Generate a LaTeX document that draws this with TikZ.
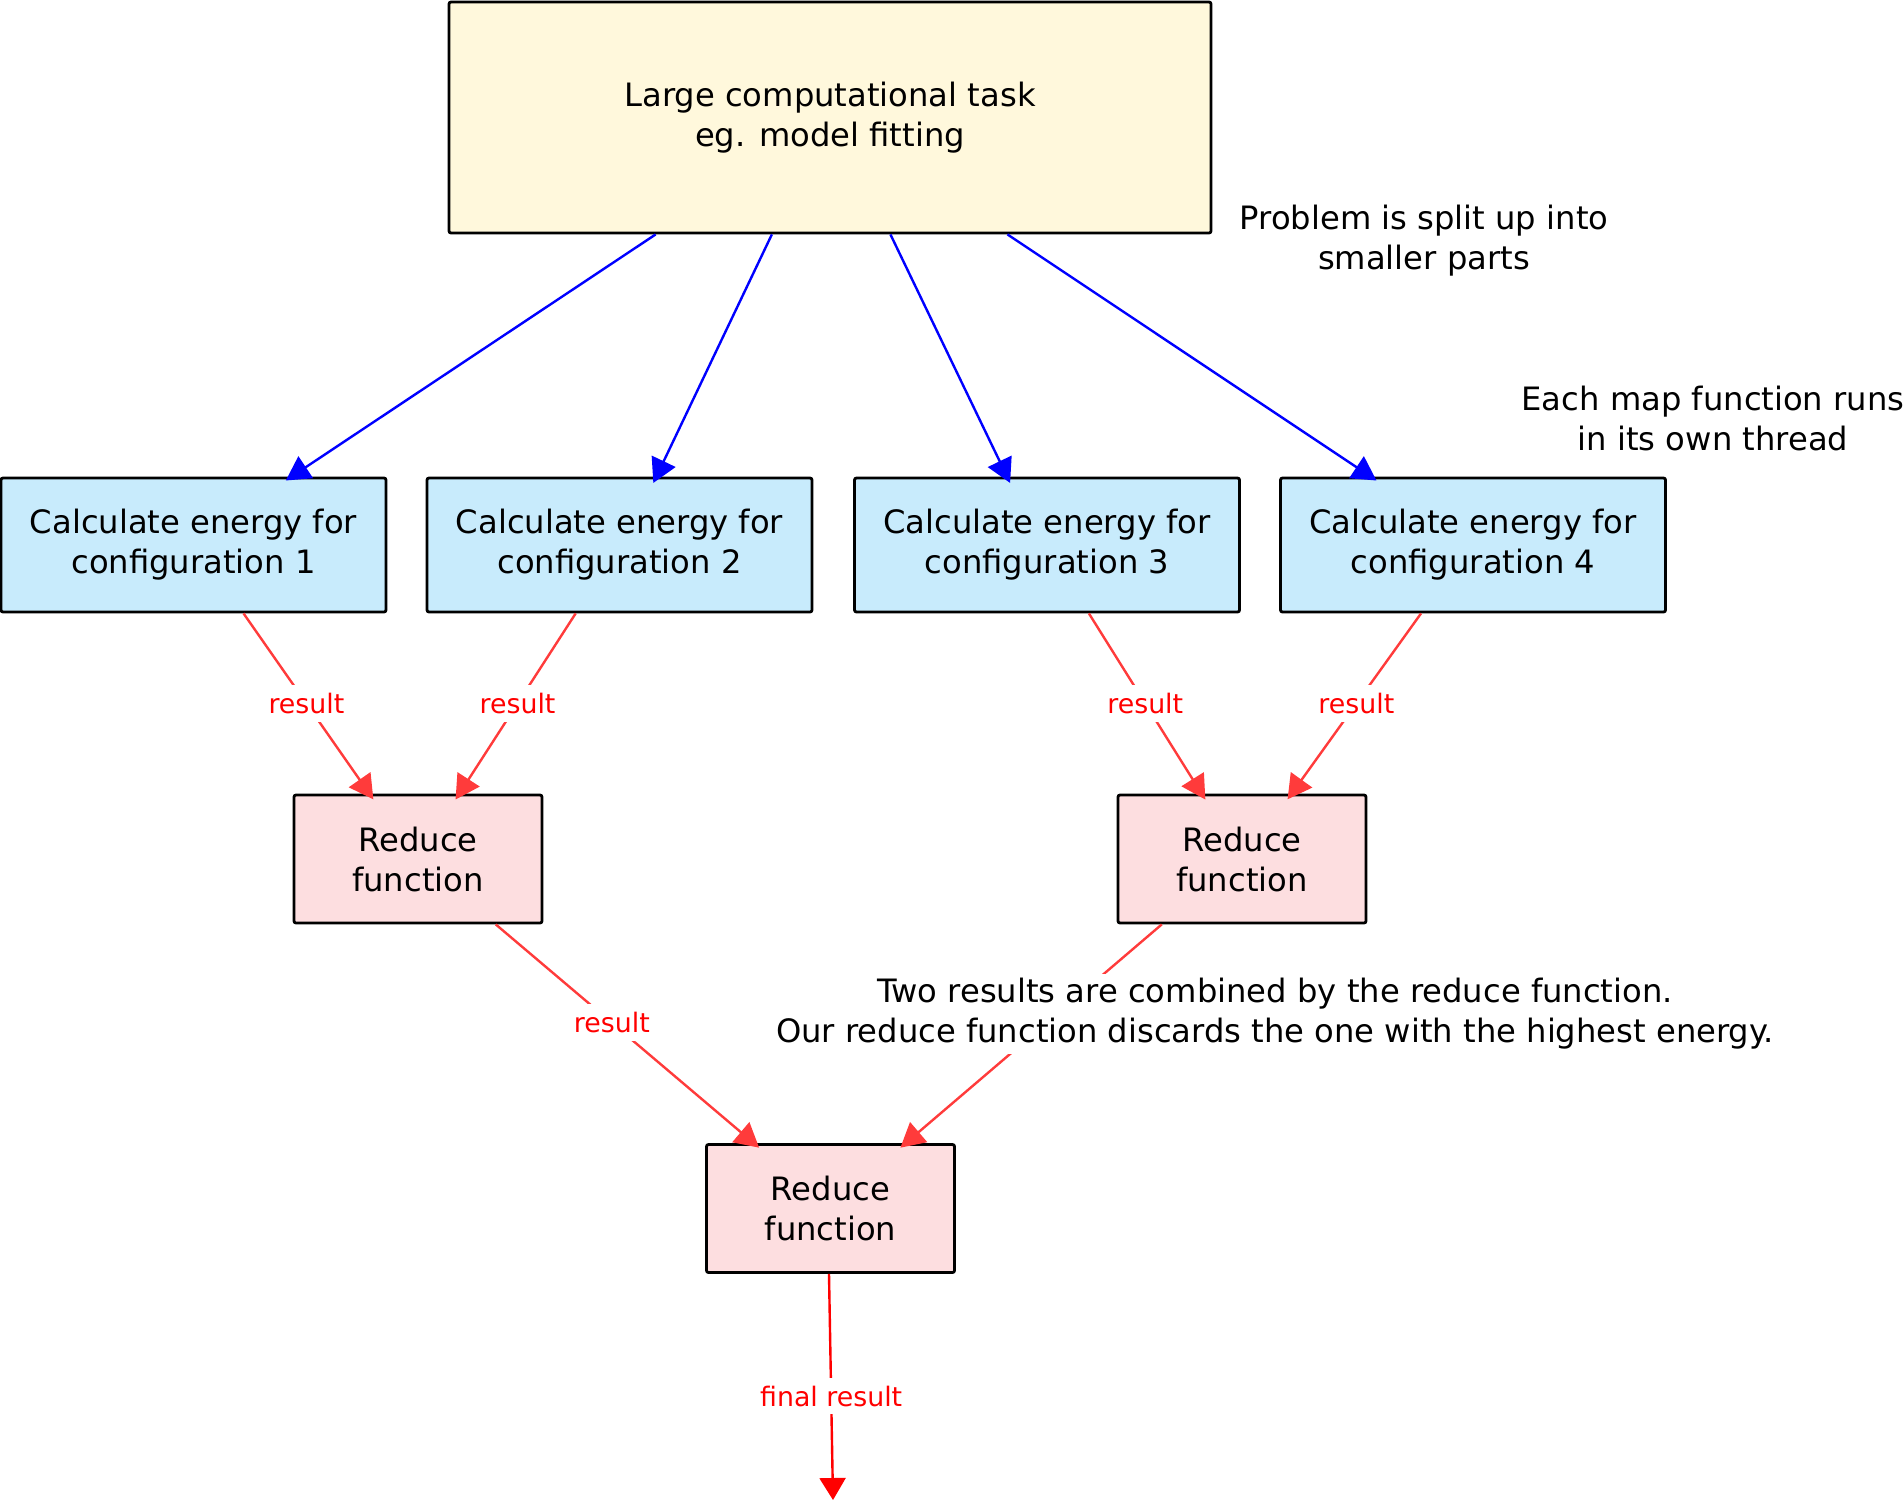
\documentclass[tikz,border=0pt]{standalone}
\usepackage{fontspec}
\setmainfont{DejaVu Sans}
\usetikzlibrary{arrows.meta,calc}
\definecolor{topfill}{HTML}{FFF8DC}
\definecolor{bluefill}{HTML}{C8EBFC}
\definecolor{pinkfill}{HTML}{FDDEE0}
\definecolor{redline}{HTML}{FF3B3B}
\tikzset{
  box/.style={draw=black, line width=1.4pt, rounded corners=1pt, align=center,
    font=\fontsize{16.1}{20}\selectfont, inner sep=0pt},
  topbox/.style={box, fill=topfill, minimum width=381pt, minimum height=115.5pt},
  mapbox/.style={box, fill=bluefill, minimum width=192.5pt, minimum height=67pt},
  redbox/.style={box, fill=pinkfill, minimum width=124pt, minimum height=64pt},
  note/.style={align=center, font=\fontsize{16.1}{20}\selectfont},
  bluearrow/.style={draw=blue, line width=1.2pt, -{Triangle[length=12pt,width=13pt]}, shorten >=-3.5pt},
  redarrow/.style={draw=redline, line width=1.2pt, -{Triangle[length=12pt,width=13pt]}, shorten >=-3.5pt},
  finalarrow/.style={draw=red, line width=1.2pt, -{Triangle[length=11pt,width=13pt]}},
  lbl/.style={fill=white, text=red, font=\fontsize{13.4}{16}\selectfont, inner sep=4pt}
}
\begin{document}
\begin{tikzpicture}[x=0.5pt,y=-0.5pt]
\useasboundingbox (0,0) rectangle (1904,1500);

\node[topbox] (top) at (830,117.5) {Large computational task\\eg. model fitting};

\node[mapbox] (m1) at (193.5,545) {Calculate energy for\\configuration 1};
\node[mapbox] (m2) at (619.5,545) {Calculate energy for\\configuration 2};
\node[mapbox] (m3) at (1047,545) {Calculate energy for\\configuration 3};
\node[mapbox] (m4) at (1473,545) {Calculate energy for\\configuration 4};

\node[redbox] (r1) at (418,859) {Reduce\\function};
\node[redbox] (r2) at (1242,859) {Reduce\\function};
\node[redbox] (r3) at (830.5,1208.5) {Reduce\\function};

\node[note] (n1) at (1424,241) {Problem is split up into\\smaller parts};
\node[note] (n2) at (1713,418) {Each map function runs\\in its own thread};

\coordinate (end) at (833,1500);

% map arrows
\draw[bluearrow] ($(top.south west)!0.272!(top.south east)$) -- ($(m1.north west)!0.753!(m1.north east)$);
\draw[bluearrow] ($(top.south west)!0.424!(top.south east)$) -- ($(m2.north west)!0.595!(m2.north east)$);
\draw[bluearrow] ($(top.south west)!0.579!(top.south east)$) -- ($(m3.north west)!0.397!(m3.north east)$);
\draw[bluearrow] ($(top.south west)!0.732!(top.south east)$) -- ($(m4.north west)!0.236!(m4.north east)$);

% results
\draw[redarrow] ($(m1.south west)!0.629!(m1.south east)$) -- node[lbl]{result} ($(r1.north west)!0.306!(r1.north east)$);
\draw[redarrow] ($(m2.south west)!0.387!(m2.south east)$) -- node[lbl]{result} ($(r1.north west)!0.665!(r1.north east)$);
\draw[redarrow] ($(m3.south west)!0.608!(m3.south east)$) -- node[lbl]{result} ($(r2.north west)!0.339!(r2.north east)$);
\draw[redarrow] ($(m4.south west)!0.366!(m4.south east)$) -- node[lbl]{result} ($(r2.north west)!0.698!(r2.north east)$);

\draw[redarrow] ($(r1.south west)!0.81!(r1.south east)$) -- node[lbl,pos=0.45]{result} ($(r3.north west)!0.194!(r3.north east)$);
\draw[redarrow] ($(r2.south west)!0.18!(r2.south east)$) -- ($(r3.north west)!0.80!(r3.north east)$);

\node[note, fill=white, inner sep=2pt] (n3) at (1275,1014) {Two results are combined by the reduce function.\\Our reduce function discards the one with the highest energy.};

\draw[finalarrow] ($(r3.south west)!0.494!(r3.south east)$) -- node[lbl,pos=0.54]{final result} (end);
\end{tikzpicture}
\end{document}
